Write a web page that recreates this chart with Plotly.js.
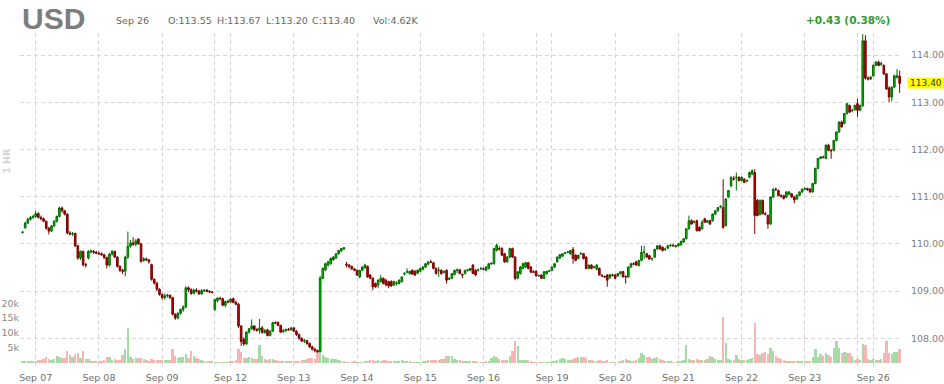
<!DOCTYPE html>
<html>
<head>
<meta charset="utf-8">
<script src="https://cdn.plot.ly/plotly-3.0.1.min.js"></script>
<style>html,body{margin:0;padding:0;background:#fff;}#chart{width:944px;height:384px;}</style>
</head>
<body>
<div id="chart"></div>
<script>
// Hourly bars per session: [open, high, low, close, volume in thousands]
const sep06 = [
[110.24,110.27,110.22,110.25,0.4],[110.34,110.47,110.32,110.44,0.5],[110.44,110.55,110.42,110.52,0.5],
[110.52,110.59,110.49,110.56,0.6],[110.56,110.62,110.53,110.58,0.5]];
const sep07 = [
[110.58,110.70,110.55,110.64,0.6],[110.64,110.67,110.54,110.56,0.8],[110.56,110.60,110.50,110.53,0.7],
[110.53,110.56,110.46,110.48,1.2],[110.48,110.49,110.30,110.33,1.7],[110.33,110.36,110.20,110.27,1.1],
[110.27,110.40,110.25,110.38,1.0],[110.38,110.50,110.36,110.48,1.3],[110.48,110.60,110.45,110.58,2.2],
[110.58,110.79,110.56,110.76,2.0],[110.76,110.79,110.66,110.70,1.6],[110.70,110.72,110.60,110.63,1.4],
[110.63,110.65,110.20,110.23,3.9],[110.23,110.27,110.18,110.21,2.6],[110.21,110.25,110.17,110.22,2.0],
[110.22,110.24,109.93,109.96,2.8],[109.96,109.98,109.66,109.70,3.2],[109.70,109.86,109.66,109.84,1.5],
[109.84,109.86,109.52,109.56,3.8],[109.56,109.60,109.50,109.55,1.2],[109.70,109.87,109.67,109.84,1.2],
[109.83,109.88,109.80,109.85,0.6],[109.84,109.87,109.79,109.82,0.5],[109.82,109.85,109.78,109.80,0.5]];
const sep08 = [
[109.80,109.84,109.76,109.79,0.5],[109.79,109.82,109.75,109.77,0.4],[109.77,109.79,109.68,109.71,1.0],
[109.71,109.73,109.48,109.55,2.0],[109.55,109.81,109.52,109.78,1.8],[109.78,109.87,109.75,109.84,1.0],
[109.84,109.86,109.70,109.72,1.2],[109.72,109.74,109.50,109.52,0.9],[109.52,109.55,109.40,109.44,1.0],
[109.44,109.47,109.36,109.42,2.5],[109.42,109.75,109.31,109.72,4.5],[109.72,110.26,109.68,109.95,11.6],
[109.95,110.08,109.92,110.02,2.0],[110.02,110.14,109.96,109.99,1.2],[109.99,110.10,109.95,110.06,1.5],
[110.10,110.12,109.98,110.00,1.4],[110.00,110.02,109.60,109.63,1.6],[109.65,109.72,109.62,109.68,1.2],
[109.68,109.71,109.64,109.66,0.8],[109.66,109.68,109.58,109.62,0.6],[109.56,109.58,109.22,109.25,1.3],
[109.25,109.27,109.14,109.17,1.0],[109.17,109.19,109.00,109.04,0.9],[109.04,109.06,108.90,108.93,0.8]];
const sep09 = [
[108.93,108.95,108.82,108.86,1.0],[108.86,108.95,108.82,108.90,0.9],[108.90,108.94,108.86,108.91,0.8],
[108.91,108.93,108.83,108.86,1.0],[108.86,108.88,108.48,108.51,4.4],[108.51,108.53,108.39,108.43,2.2],
[108.43,108.55,108.40,108.53,1.5],[108.53,108.63,108.50,108.61,1.8],[108.61,108.70,108.56,108.66,2.0],
[108.66,109.10,108.64,109.07,2.8],[109.07,109.10,108.98,109.03,1.5],[109.03,109.06,108.92,108.95,3.9],
[108.95,109.05,108.93,109.02,2.2],[109.02,109.06,108.97,109.00,1.6],[109.00,109.03,108.92,108.94,1.1],
[108.94,109.04,108.92,109.01,1.0],[109.01,109.04,108.98,109.02,0.6],[109.02,109.04,108.98,108.99,0.5],
[108.99,109.02,108.96,108.98,0.5],[108.98,109.00,108.95,108.97,0.4]];
const sep11 = [
[108.61,108.84,108.58,108.82,0.3],[108.80,108.87,108.76,108.85,0.3],[108.85,108.88,108.80,108.84,0.3],
[108.84,108.86,108.68,108.70,0.2],[108.70,108.80,108.66,108.78,0.3],[108.78,108.82,108.74,108.77,0.3]];
const sep12 = [
[108.77,108.85,108.74,108.83,0.4],[108.84,108.86,108.74,108.76,0.6],[108.76,108.80,108.70,108.72,0.8],
[108.72,108.75,108.22,108.26,4.4],[108.26,108.28,107.84,107.93,3.5],[107.98,108.02,107.84,107.88,1.6],
[107.88,108.15,107.86,108.13,1.5],[108.13,108.22,108.10,108.20,1.7],[108.20,108.40,108.18,108.26,1.4],
[108.26,108.28,108.15,108.18,1.2],[108.18,108.22,108.14,108.17,1.3],[108.17,108.41,108.10,108.22,6.0],
[108.22,108.26,108.10,108.12,2.2],[108.12,108.20,108.10,108.16,1.2],[108.18,108.20,108.04,108.06,1.0],
[108.06,108.17,108.04,108.15,1.1],[108.15,108.35,108.13,108.33,1.3],[108.33,108.36,108.30,108.32,0.8],
[108.34,108.35,108.26,108.27,0.6],[108.27,108.29,108.12,108.13,0.6],[108.14,108.20,108.12,108.16,0.5],
[108.16,108.20,108.14,108.19,0.5],[108.19,108.22,108.16,108.18,0.4],[108.18,108.24,108.16,108.22,0.5]];
const sep13 = [
[108.22,108.24,108.13,108.15,0.5],[108.15,108.17,108.05,108.08,0.6],[108.08,108.10,107.97,108.00,0.6],
[108.00,108.02,107.92,107.94,0.9],[107.94,107.99,107.90,107.95,1.0],[107.95,107.97,107.86,107.89,1.1],
[107.89,107.91,107.79,107.82,1.5],[107.82,107.84,107.74,107.77,1.6],[107.77,107.80,107.70,107.74,1.2],
[107.74,107.76,107.69,107.72,3.8],[107.72,109.32,107.70,109.28,5.0],[109.27,109.50,109.25,109.48,2.4],
[109.45,109.60,109.42,109.58,2.0],[109.55,109.64,109.52,109.62,1.5],[109.58,109.71,109.56,109.69,1.3],
[109.66,109.74,109.64,109.72,1.2],[109.70,109.80,109.68,109.79,1.3],[109.79,109.87,109.77,109.86,0.9],
[109.85,109.91,109.83,109.90,0.6],[109.89,109.93,109.87,109.92,0.4],[109.57,109.62,109.50,109.55,0.3],
[109.55,109.57,109.48,109.52,0.3],[109.52,109.54,109.45,109.47,0.3],[109.47,109.49,109.42,109.44,0.4]];
const sep14 = [
[109.44,109.46,109.32,109.34,0.3],[109.30,109.45,109.27,109.44,0.3],[109.44,109.52,109.42,109.51,0.3],
[109.50,109.58,109.47,109.55,0.4],[109.52,109.54,109.28,109.30,0.6],[109.34,109.36,109.25,109.27,0.7],
[109.27,109.29,109.02,109.09,0.8],[109.16,109.18,109.07,109.09,0.6],[109.13,109.25,109.06,109.23,0.7],
[109.20,109.34,109.18,109.27,0.6],[109.27,109.29,109.14,109.16,0.8],[109.23,109.26,109.10,109.13,0.7],
[109.20,109.22,109.06,109.11,0.6],[109.20,109.23,109.09,109.11,0.5],[109.13,109.22,109.10,109.20,0.4],
[109.16,109.21,109.12,109.17,0.4],[109.16,109.25,109.14,109.23,0.5],[109.20,109.31,109.18,109.30,0.8],
[109.36,109.40,109.33,109.37,0.6],[109.40,109.48,109.38,109.41,0.5],[109.37,109.43,109.35,109.42,0.4],
[109.44,109.46,109.34,109.36,0.3],[109.42,109.44,109.32,109.34,0.3],[109.38,109.46,109.36,109.44,0.3]];
const sep15 = [
[109.42,109.49,109.40,109.48,0.3],[109.46,109.53,109.44,109.51,0.4],[109.51,109.59,109.49,109.58,0.5],
[109.57,109.63,109.55,109.62,0.8],[109.62,109.66,109.59,109.61,0.9],[109.60,109.62,109.46,109.48,0.9],
[109.48,109.50,109.35,109.37,1.0],[109.43,109.51,109.30,109.44,0.9],[109.44,109.46,109.35,109.37,1.2],
[109.40,109.44,109.37,109.41,1.3],[109.44,109.46,109.16,109.23,2.2],[109.25,109.29,109.23,109.27,2.3],
[109.27,109.38,109.25,109.37,2.1],[109.35,109.45,109.33,109.44,1.2],[109.44,109.48,109.38,109.45,1.0],
[109.45,109.47,109.36,109.37,0.7],[109.35,109.37,109.27,109.34,0.5],[109.37,109.45,109.35,109.44,0.6],
[109.44,109.47,109.41,109.45,0.4],[109.44,109.49,109.42,109.48,0.4],[109.55,109.57,109.36,109.37,0.6],
[109.44,109.46,109.32,109.34,0.5],[109.44,109.47,109.41,109.45,0.3],[109.47,109.51,109.45,109.48,0.3]];
const sep16 = [
[109.47,109.50,109.44,109.46,0.3],[109.44,109.52,109.42,109.51,0.4],[109.48,109.59,109.46,109.58,0.5],
[109.58,109.61,109.55,109.59,1.4],[109.58,109.92,109.56,109.90,2.2],[109.86,110.00,109.84,109.97,1.8],
[109.90,109.95,109.86,109.89,1.2],[109.90,109.93,109.74,109.76,1.0],[109.79,109.81,109.60,109.62,0.8],
[109.62,109.74,109.60,109.72,1.0],[109.72,109.92,109.70,109.90,2.2],[109.90,109.92,109.70,109.72,3.8],
[109.72,109.74,109.23,109.27,7.2],[109.27,109.42,109.25,109.41,5.5],[109.37,109.53,109.35,109.51,1.0],
[109.48,109.60,109.46,109.58,0.9],[109.51,109.62,109.49,109.60,0.8],[109.60,109.62,109.46,109.48,0.7],
[109.51,109.53,109.39,109.40,0.6],[109.41,109.44,109.38,109.40,0.3]];
const sep18 = [
[109.42,109.44,109.31,109.32,0.2],[109.32,109.35,109.30,109.33,0.2],[109.34,109.36,109.26,109.27,0.3],
[109.27,109.42,109.25,109.41,0.2],[109.37,109.43,109.35,109.42,0.2],[109.42,109.45,109.40,109.43,0.3]];
const sep19 = [
[109.44,109.52,109.42,109.51,0.4],[109.51,109.59,109.49,109.58,0.6],[109.62,109.73,109.60,109.72,0.9],
[109.70,109.78,109.68,109.77,1.2],[109.74,109.80,109.72,109.79,1.4],[109.80,109.83,109.78,109.81,1.3],
[109.82,109.85,109.80,109.83,0.9],[109.79,109.87,109.77,109.86,1.0],[109.88,109.93,109.58,109.69,1.3],
[109.76,109.78,109.63,109.65,1.5],[109.69,109.77,109.67,109.76,1.8],[109.79,109.82,109.76,109.80,2.0],
[109.79,109.81,109.67,109.69,1.7],[109.72,109.74,109.46,109.48,1.5],[109.48,109.56,109.46,109.55,0.9],
[109.55,109.57,109.46,109.48,0.8],[109.50,109.53,109.48,109.51,0.6],[109.46,109.57,109.44,109.55,0.5],
[109.48,109.50,109.33,109.34,0.8],[109.33,109.36,109.30,109.32,0.6],[109.31,109.33,109.28,109.30,0.4],
[109.34,109.36,109.09,109.23,0.7],[109.28,109.36,109.26,109.35,0.3],[109.34,109.37,109.31,109.33,0.3]];
const sep20 = [
[109.34,109.36,109.25,109.27,0.3],[109.32,109.38,109.30,109.37,0.3],[109.37,109.42,109.35,109.41,0.5],
[109.41,109.43,109.29,109.30,0.8],[109.31,109.33,109.16,109.30,1.1],[109.30,109.52,109.28,109.51,1.0],
[109.51,109.60,109.49,109.58,0.6],[109.58,109.61,109.55,109.57,0.5],[109.62,109.64,109.54,109.55,0.9],
[109.54,109.66,109.52,109.65,1.5],[109.65,109.96,109.63,109.82,3.3],[109.82,109.96,109.68,109.83,2.5],
[109.79,109.81,109.70,109.72,2.0],[109.75,109.77,109.66,109.68,1.8],[109.68,109.71,109.64,109.69,1.2],
[109.72,109.90,109.70,109.88,1.6],[109.89,109.97,109.87,109.96,1.7],[109.96,109.98,109.88,109.89,1.3],
[109.93,109.94,109.84,109.86,0.8],[109.88,109.92,109.85,109.89,0.6],[109.91,109.98,109.89,109.96,0.5],
[109.96,110.00,109.94,109.97,0.4],[109.97,110.00,109.94,109.96,0.3],[109.94,109.98,109.92,109.96,0.3]];
const sep21 = [
[109.96,110.02,109.94,110.00,0.4],[109.98,110.07,109.96,110.05,0.6],[110.04,110.12,110.02,110.11,0.8],
[110.11,110.33,110.09,110.32,6.0],[110.32,110.60,110.30,110.49,1.3],[110.49,110.52,110.41,110.42,1.0],
[110.46,110.50,110.43,110.47,0.9],[110.49,110.51,110.26,110.28,1.1],[110.35,110.37,110.26,110.28,0.9],
[110.32,110.50,110.30,110.46,0.8],[110.53,110.55,110.45,110.46,0.7],[110.46,110.51,110.44,110.49,1.2],
[110.49,110.51,110.40,110.42,2.2],[110.49,110.64,110.47,110.63,2.0],[110.63,110.71,110.61,110.70,1.2],
[110.70,110.78,110.68,110.77,1.0],[110.78,110.82,110.75,110.79,1.0],[110.77,111.37,110.32,110.35,15.5],
[110.39,110.97,110.37,110.95,6.6],[110.99,111.14,110.97,111.13,1.2],[111.23,111.43,111.20,111.41,1.0],
[111.38,111.44,111.34,111.37,0.8],[111.40,111.51,111.13,111.41,2.7],[111.41,111.43,111.32,111.34,1.2]];
const sep22 = [
[111.34,111.43,111.32,111.41,1.0],[111.37,111.39,111.29,111.30,0.8],[111.33,111.36,111.30,111.34,0.9],
[111.41,111.53,111.39,111.51,1.1],[111.48,111.58,111.46,111.55,1.5],[111.51,111.58,110.21,110.60,13.3],
[110.92,110.95,110.58,110.60,2.8],[110.62,110.94,110.60,110.92,2.5],[110.92,110.94,110.62,110.64,3.3],
[110.64,110.67,110.60,110.63,3.5],[110.60,110.62,110.32,110.42,3.0],[110.42,111.00,110.40,110.99,5.0],
[110.99,111.17,110.97,111.16,4.0],[111.16,111.19,111.12,111.15,2.2],[111.13,111.15,111.01,111.02,1.5],
[111.02,111.05,110.98,111.01,1.1],[111.02,111.04,110.94,110.96,1.0],[110.99,111.12,110.97,111.10,0.6],
[111.05,111.12,111.03,111.10,0.5],[111.06,111.08,110.98,110.99,0.5],[110.99,111.02,110.86,110.93,0.6],
[110.95,111.05,110.93,111.03,0.4],[111.03,111.11,111.01,111.10,0.4],[111.10,111.17,111.08,111.16,0.4]];
const sep23 = [
[111.16,111.20,111.14,111.17,0.4],[111.17,111.19,111.12,111.15,0.5],[111.16,111.18,111.08,111.10,0.6],
[111.10,111.29,111.08,111.28,1.7],[111.28,111.61,111.26,111.60,4.4],[111.60,111.82,111.58,111.81,2.0],
[111.81,111.86,111.79,111.84,2.8],[111.84,111.87,111.81,111.83,2.2],[111.81,112.11,111.79,112.09,3.3],
[112.09,112.12,111.96,111.98,2.6],[111.98,112.01,111.80,111.97,2.0],[111.98,112.20,111.96,112.19,5.0],
[112.19,112.38,112.17,112.37,7.2],[112.37,112.59,112.35,112.58,5.0],[112.58,112.61,112.46,112.48,3.3],
[112.55,112.77,112.53,112.76,3.5],[112.76,112.98,112.74,112.97,3.3],[112.93,112.95,112.77,112.79,3.2],
[112.82,112.86,112.79,112.83,2.2],[112.84,112.95,112.82,112.93,0.8]];
const sep25 = [
[112.97,113.07,112.69,112.83,1.1],[112.83,112.95,112.81,112.93,1.0],[112.93,114.44,112.90,114.30,6.1],
[114.30,114.42,113.48,113.51,6.0],[113.51,113.55,113.46,113.49,1.2],[113.49,113.56,113.47,113.53,1.0]];
const sep26 = [
[113.56,113.80,113.54,113.78,1.1],[113.78,113.87,113.76,113.85,1.0],[113.85,113.88,113.76,113.78,0.9],
[113.80,113.86,113.77,113.82,1.2],[113.78,113.80,113.58,113.60,3.3],[113.60,113.62,113.26,113.28,7.2],
[113.30,113.34,113.00,113.11,3.3],[113.11,113.33,113.02,113.32,3.0],[113.32,113.58,113.30,113.56,3.4],
[113.53,113.70,113.50,113.56,3.6],[113.55,113.67,113.20,113.40,4.62]];

const sessions = [sep06, sep07, sep08, sep09, sep11, sep12, sep13, sep14, sep15, sep16,
                  sep18, sep19, sep20, sep21, sep22, sep23, sep25, sep26];
const sessionLabels = ["Sep 06","Sep 07","Sep 08","Sep 09","","Sep 12","Sep 13","Sep 14","Sep 15","Sep 16",
                       "","Sep 19","Sep 20","Sep 21","Sep 22","Sep 23","","Sep 26"];
const priceTicks = [108, 109, 110, 111, 112, 113, 114];
const volTicks = [5, 10, 15, 20];
const volTickText = ["5k", "10k", "15k", "20k"];

const symbol = "USD";
const barDate = "Sep 26";
const barFields = ["O:113.55", "H:113.67", "L:113.20", "C:113.40", "Vol:4.62K"];
const changeText = "+0.43 (0.38%)";
const lastPrice = 113.40;
const intervalText = "1 HR";

// build series
const xs = [], o = [], h = [], l = [], c = [], v = [], vcol = [], tv = [], tt = [];
let idx = 0;
sessions.forEach((s, k) => {
  if (k > 0) { tv.push(idx); tt.push(sessionLabels[k]); }
  s.forEach(r => {
    xs.push(idx); o.push(r[0]); h.push(r[1]); l.push(r[2]); c.push(r[3]); v.push(r[4]);
    vcol.push(r[3] >= r[0] ? '#a6dba6' : '#f6b6b6');
    idx++;
  });
});

const PL = 20, PR = 902, PT = 33, PB = 366;
const px = p => (p - PL) / (PR - PL);
const py = p => 1 - (p - PT) / (PB - PT);
const hdrFont = {family: 'DejaVu Sans, Verdana, sans-serif', size: 9.5, color: '#666'};

const fieldX = [168, 216.5, 265.5, 311.5, 372.5];
const annotations = [
  {text: '<b>' + symbol + '</b>', xref: 'paper', yref: 'paper', x: px(21), y: py(0.5), xanchor: 'left', yanchor: 'top',
   borderpad: 0, showarrow: false, font: {family: 'Liberation Sans, Arial, sans-serif', size: 30, color: '#7d7d7d'}},
  {text: barDate, xref: 'paper', yref: 'paper', x: px(114), y: py(20), xanchor: 'left', yanchor: 'middle', showarrow: false, font: hdrFont},
  {text: '<b>' + changeText + '</b>', xref: 'paper', yref: 'paper', x: px(892), y: py(20), xanchor: 'right', yanchor: 'middle',
   showarrow: false, font: {family: 'DejaVu Sans, Verdana, sans-serif', size: 10.5, color: '#2c9c2c'}},
  {text: '<b>' + intervalText + '</b>', xref: 'paper', yref: 'paper', x: px(6.3), y: py(160.5), xanchor: 'center', yanchor: 'middle',
   textangle: -90, showarrow: false, font: {family: 'DejaVu Sans, Verdana, sans-serif', size: 9.5, color: '#d4d4d4'}},
  {text: lastPrice.toFixed(2), xref: 'paper', yref: 'y2', x: px(907), y: lastPrice, xanchor: 'left', yanchor: 'middle',
   showarrow: false, bgcolor: '#ffff00', borderpad: 0, width: 36, height: 10,
   font: {family: 'DejaVu Sans, Verdana, sans-serif', size: 9, color: '#333'}}
];
barFields.forEach((t, k) => annotations.push({text: t, xref: 'paper', yref: 'paper', x: px(fieldX[k] - 2), y: py(20),
  xanchor: 'left', yanchor: 'middle', showarrow: false, font: hdrFont}));

const gridCol = '#d6d6d6';
const traces = [
  {type: 'bar', x: xs, y: v, xaxis: 'x', yaxis: 'y', marker: {color: vcol, line: {width: 0}}, width: 0.9, hoverinfo: 'skip'},
  {type: 'candlestick', x: xs, open: o, high: h, low: l, close: c, xaxis: 'x', yaxis: 'y2', whiskerwidth: 0,
   increasing: {line: {color: '#006b00', width: 1}, fillcolor: '#00c000'},
   decreasing: {line: {color: '#7a0000', width: 1}, fillcolor: '#c40000'}, hoverinfo: 'skip'}
];

const layout = {
  width: 944, height: 384,
  margin: {l: PL, r: 944 - PR, t: PT, b: 384 - PB, pad: 0},
  paper_bgcolor: '#ffffff', plot_bgcolor: '#ffffff',
  showlegend: false, boxgap: 0.12, bargap: 0,
  font: {family: 'DejaVu Sans, Verdana, sans-serif'},
  xaxis: {range: [-0.96, 333.9], tickmode: 'array', tickvals: tv, ticktext: tt,
    showgrid: true, gridcolor: gridCol, griddash: '4px,3px', gridwidth: 1,
    zeroline: false, showline: false, ticks: 'outside', ticklen: 3, tickcolor: 'rgba(0,0,0,0)',
    tickfont: {family: 'DejaVu Sans, Verdana, sans-serif', size: 9.5, color: '#707070'},
    rangeslider: {visible: false}, fixedrange: true},
  yaxis: {range: [-1.18, 111.3], side: 'left', tickmode: 'array', tickvals: volTicks, ticktext: volTickText,
    showgrid: false, zeroline: false, showline: false, ticks: '',
    tickfont: {family: 'DejaVu Sans, Verdana, sans-serif', size: 9.5, color: '#888'}, fixedrange: true},
  yaxis2: {overlaying: 'y', side: 'right', range: [107.413, 114.466], tickmode: 'array', tickvals: priceTicks,
    tickformat: '.2f', showgrid: true, gridcolor: gridCol, griddash: '4px,3px', gridwidth: 1,
    zeroline: false, showline: false, ticks: 'outside', ticklen: 6, tickcolor: 'rgba(0,0,0,0)',
    tickfont: {family: 'DejaVu Sans, Verdana, sans-serif', size: 9.5, color: '#808080'}, fixedrange: true},
  annotations: annotations
};

Plotly.newPlot('chart', traces, layout, {staticPlot: true, displayModeBar: false});
</script>
</body>
</html>
